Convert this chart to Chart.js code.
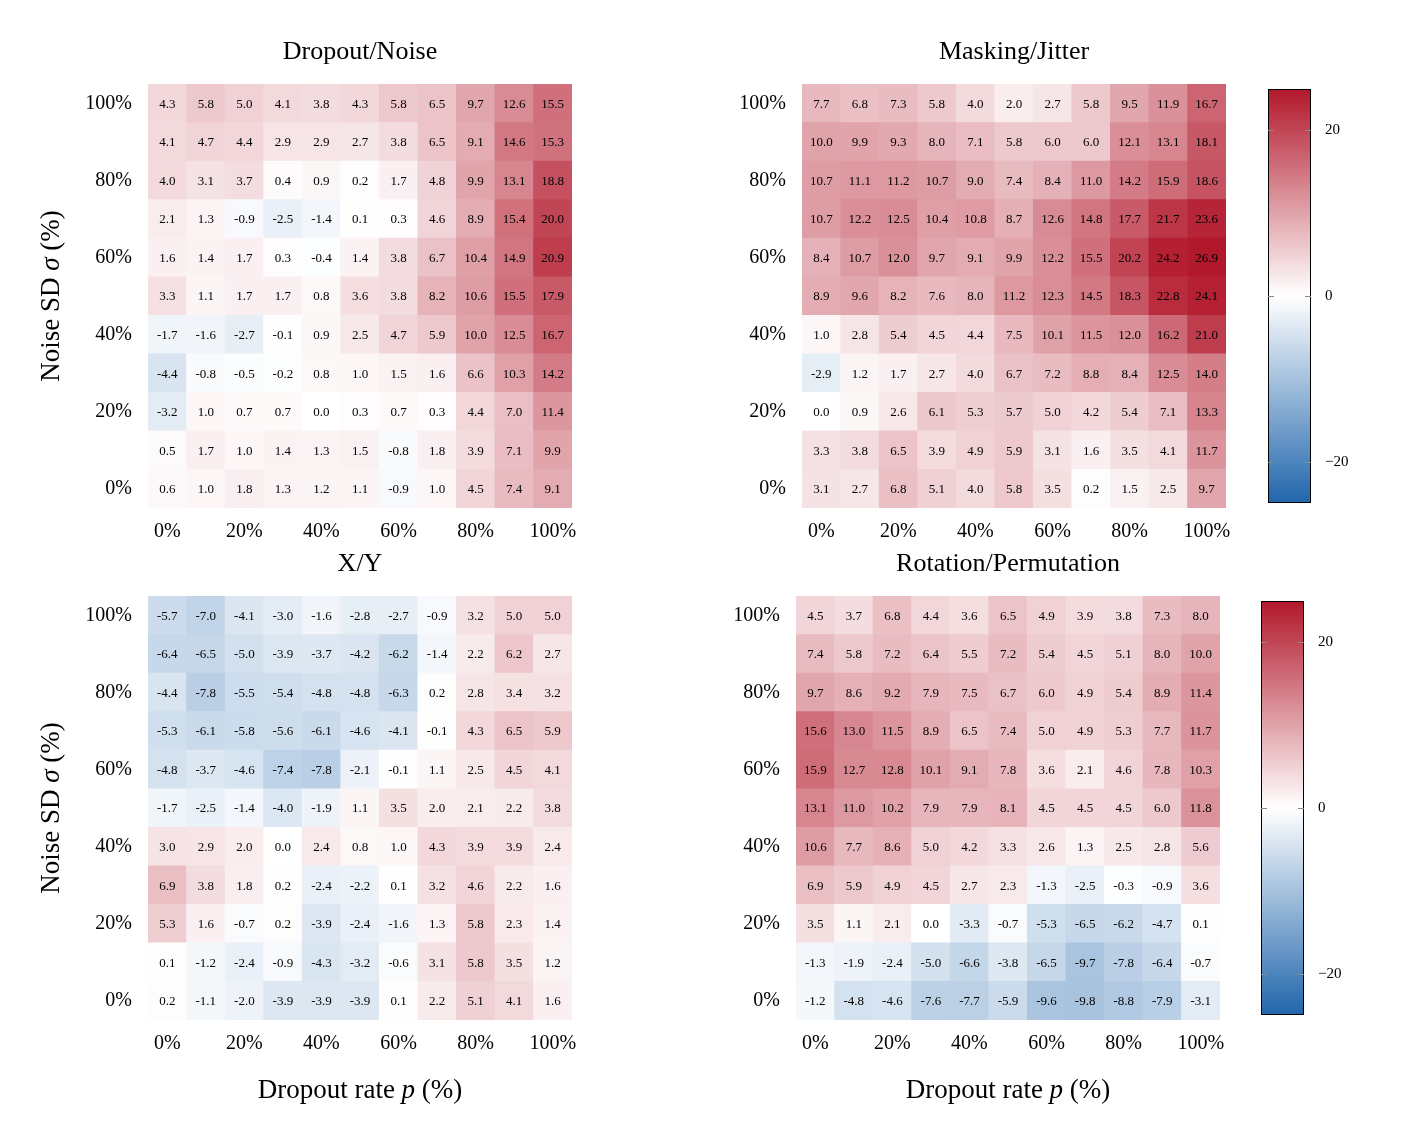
<!DOCTYPE html>
<html><head><meta charset="utf-8">
<script src="https://cdn.jsdelivr.net/npm/chart.js@4"></script>
<style>body{margin:0;background:#fff;width:1414px;height:1130px;position:relative;overflow:hidden}canvas{position:absolute}</style>
</head><body>
<canvas id="c0"></canvas><canvas id="c1"></canvas><canvas id="c2"></canvas><canvas id="c3"></canvas>
<canvas id="cb0"></canvas><canvas id="cb1"></canvas>
<script>
const columns = ['0','10','20','30','40','50','60','70','80','90','100'];
const xTickLabels = ['0%','','20%','','40%','','60%','','80%','','100%'];
const yTickLabels = ['0%','20%','40%','60%','80%','100%'];
const titles = ['Dropout/Noise','Masking/Jitter','X/Y','Rotation/Permutation'];
// rows listed top (σ=100%) to bottom (σ=0%)
const dropoutNoise = [
[4.3,5.8,5.0,4.1,3.8,4.3,5.8,6.5,9.7,12.6,15.5],
[4.1,4.7,4.4,2.9,2.9,2.7,3.8,6.5,9.1,14.6,15.3],
[4.0,3.1,3.7,0.4,0.9,0.2,1.7,4.8,9.9,13.1,18.8],
[2.1,1.3,-0.9,-2.5,-1.4,0.1,0.3,4.6,8.9,15.4,20.0],
[1.6,1.4,1.7,0.3,-0.4,1.4,3.8,6.7,10.4,14.9,20.9],
[3.3,1.1,1.7,1.7,0.8,3.6,3.8,8.2,10.6,15.5,17.9],
[-1.7,-1.6,-2.7,-0.1,0.9,2.5,4.7,5.9,10.0,12.5,16.7],
[-4.4,-0.8,-0.5,-0.2,0.8,1.0,1.5,1.6,6.6,10.3,14.2],
[-3.2,1.0,0.7,0.7,0.0,0.3,0.7,0.3,4.4,7.0,11.4],
[0.5,1.7,1.0,1.4,1.3,1.5,-0.8,1.8,3.9,7.1,9.9],
[0.6,1.0,1.8,1.3,1.2,1.1,-0.9,1.0,4.5,7.4,9.1]];
const maskingJitter = [
[7.7,6.8,7.3,5.8,4.0,2.0,2.7,5.8,9.5,11.9,16.7],
[10.0,9.9,9.3,8.0,7.1,5.8,6.0,6.0,12.1,13.1,18.1],
[10.7,11.1,11.2,10.7,9.0,7.4,8.4,11.0,14.2,15.9,18.6],
[10.7,12.2,12.5,10.4,10.8,8.7,12.6,14.8,17.7,21.7,23.6],
[8.4,10.7,12.0,9.7,9.1,9.9,12.2,15.5,20.2,24.2,26.9],
[8.9,9.6,8.2,7.6,8.0,11.2,12.3,14.5,18.3,22.8,24.1],
[1.0,2.8,5.4,4.5,4.4,7.5,10.1,11.5,12.0,16.2,21.0],
[-2.9,1.2,1.7,2.7,4.0,6.7,7.2,8.8,8.4,12.5,14.0],
[0.0,0.9,2.6,6.1,5.3,5.7,5.0,4.2,5.4,7.1,13.3],
[3.3,3.8,6.5,3.9,4.9,5.9,3.1,1.6,3.5,4.1,11.7],
[3.1,2.7,6.8,5.1,4.0,5.8,3.5,0.2,1.5,2.5,9.7]];
const xy = [
[-5.7,-7.0,-4.1,-3.0,-1.6,-2.8,-2.7,-0.9,3.2,5.0,5.0],
[-6.4,-6.5,-5.0,-3.9,-3.7,-4.2,-6.2,-1.4,2.2,6.2,2.7],
[-4.4,-7.8,-5.5,-5.4,-4.8,-4.8,-6.3,0.2,2.8,3.4,3.2],
[-5.3,-6.1,-5.8,-5.6,-6.1,-4.6,-4.1,-0.1,4.3,6.5,5.9],
[-4.8,-3.7,-4.6,-7.4,-7.8,-2.1,-0.1,1.1,2.5,4.5,4.1],
[-1.7,-2.5,-1.4,-4.0,-1.9,1.1,3.5,2.0,2.1,2.2,3.8],
[3.0,2.9,2.0,0.0,2.4,0.8,1.0,4.3,3.9,3.9,2.4],
[6.9,3.8,1.8,0.2,-2.4,-2.2,0.1,3.2,4.6,2.2,1.6],
[5.3,1.6,-0.7,0.2,-3.9,-2.4,-1.6,1.3,5.8,2.3,1.4],
[0.1,-1.2,-2.4,-0.9,-4.3,-3.2,-0.6,3.1,5.8,3.5,1.2],
[0.2,-1.1,-2.0,-3.9,-3.9,-3.9,0.1,2.2,5.1,4.1,1.6]];
const rotationPermutation = [
[4.5,3.7,6.8,4.4,3.6,6.5,4.9,3.9,3.8,7.3,8.0],
[7.4,5.8,7.2,6.4,5.5,7.2,5.4,4.5,5.1,8.0,10.0],
[9.7,8.6,9.2,7.9,7.5,6.7,6.0,4.9,5.4,8.9,11.4],
[15.6,13.0,11.5,8.9,6.5,7.4,5.0,4.9,5.3,7.7,11.7],
[15.9,12.7,12.8,10.1,9.1,7.8,3.6,2.1,4.6,7.8,10.3],
[13.1,11.0,10.2,7.9,7.9,8.1,4.5,4.5,4.5,6.0,11.8],
[10.6,7.7,8.6,5.0,4.2,3.3,2.6,1.3,2.5,2.8,5.6],
[6.9,5.9,4.9,4.5,2.7,2.3,-1.3,-2.5,-0.3,-0.9,3.6],
[3.5,1.1,2.1,0.0,-3.3,-0.7,-5.3,-6.5,-6.2,-4.7,0.1],
[-1.3,-1.9,-2.4,-5.0,-6.6,-3.8,-6.5,-9.7,-7.8,-6.4,-0.7],
[-1.2,-4.8,-4.6,-7.6,-7.7,-5.9,-9.6,-9.8,-8.8,-7.9,-3.1]];
const colorbarTicks = [-20,0,20];
const VMAX = 25;

const SERIF = '"Liberation Serif", "DejaVu Serif", serif';
const RED=[178,24,43], BLUE=[33,102,172];
function cmap(v){
  let t=Math.max(-1,Math.min(1,v/VMAX)); const c=t>=0?RED:BLUE; t=Math.abs(t);
  return `rgb(${Math.round(255+(c[0]-255)*t)},${Math.round(255+(c[1]-255)*t)},${Math.round(255+(c[2]-255)*t)})`;
}
function drawMixed(ctx, parts, cx, cy, size){
  let w=0; parts.forEach(p=>{ctx.font=(p[1]?'italic ':'')+size+'px '+SERIF; w+=ctx.measureText(p[0]).width;});
  let x=cx-w/2; ctx.textAlign='left'; ctx.textBaseline='middle';
  parts.forEach(p=>{ctx.font=(p[1]?'italic ':'')+size+'px '+SERIF; ctx.fillText(p[0],x,cy); x+=ctx.measureText(p[0]).width;});
}
const panels=[
 {id:'c0',data:dropoutNoise,title:titles[0],left:148,top:84,ylab:true,xlab:false},
 {id:'c1',data:maskingJitter,title:titles[1],left:802,top:84,ylab:false,xlab:false},
 {id:'c2',data:xy,title:titles[2],left:148,top:596,ylab:true,xlab:true},
 {id:'c3',data:rotationPermutation,title:titles[3],left:796,top:596,ylab:false,xlab:true}];
const SZ=424, PT=70, PL=150, PR=40, PB=100;
panels.forEach(p=>{
  const cv=document.getElementById(p.id);
  cv.style.left=(p.left-PL)+'px'; cv.style.top=(p.top-PT)+'px';
  cv.style.width=(PL+SZ+PR)+'px'; cv.style.height=(PT+SZ+PB)+'px';
  const rowsBottomUp=p.data.slice().reverse();
  const datasets=rowsBottomUp.map((row,r)=>({label:'r'+r,data:row.map(()=>1),vals:row,backgroundColor:row.map(cmap),borderWidth:0,barPercentage:1,categoryPercentage:1}));
  const labelPlugin={id:'lbl',afterDatasetsDraw(chart){
    const ctx=chart.ctx, a=chart.chartArea; ctx.save(); ctx.fillStyle='#000';
    ctx.font='13px '+SERIF; ctx.textAlign='center'; ctx.textBaseline='middle';
    chart.data.datasets.forEach((ds,di)=>{chart.getDatasetMeta(di).data.forEach((el,i)=>{
      ctx.fillText(ds.vals[i].toFixed(1),el.x,(el.y+el.base)/2+1);});});
    ctx.font='26px '+SERIF; ctx.textAlign='center'; ctx.textBaseline='middle';
    ctx.fillText(p.title,(a.left+a.right)/2,a.top-32);
    if(p.xlab) drawMixed(ctx,[['Dropout rate ',0],['p',1],[' (%)',0]],(a.left+a.right)/2,a.bottom+71,27);
    if(p.ylab){ctx.translate(a.left-96,(a.top+a.bottom)/2);ctx.rotate(-Math.PI/2);
      drawMixed(ctx,[['Noise SD ',0],['σ',1],[' (%)',0]],0,0,27);}
    ctx.restore();}};
  new Chart(cv,{type:'bar',data:{labels:columns,datasets},
    options:{responsive:false,animation:false,devicePixelRatio:1,
      layout:{padding:{top:PT,right:PR,left:0,bottom:0}},
      plugins:{legend:{display:false},tooltip:{enabled:false}},
      scales:{
        x:{stacked:true,grid:{display:false},border:{display:false},
           afterFit(s){s.height=PB;},
           ticks:{autoSkip:false,maxRotation:0,padding:4,color:'#000',font:{family:SERIF,size:20},callback:(v,i)=>xTickLabels[i]}},
        y:{stacked:true,min:0,max:11,grid:{display:false},border:{display:false},
           afterFit(s){s.width=PL;},
           afterBuildTicks(s){s.ticks=[0.5,2.5,4.5,6.5,8.5,10.5].map(v=>({value:v}));},
           ticks:{padding:8,color:'#000',font:{family:SERIF,size:20},callback:(v)=>yTickLabels[Math.round((v-0.5)/2)]}}}},
    plugins:[labelPlugin]});
});
[{id:'cb0',left:1268,top:84},{id:'cb1',left:1261,top:596}].forEach(c=>{
  const cv=document.getElementById(c.id);
  const W=43, PT2=10, RW=60;
  cv.style.left=c.left+'px'; cv.style.top=(c.top-PT2)+'px';
  cv.style.width=(W+RW)+'px'; cv.style.height=(SZ+2*PT2)+'px';
  const grad={id:'grad',beforeDatasetsDraw(chart){
    const a=chart.chartArea, g=chart.ctx.createLinearGradient(0,a.bottom,0,a.top);
    for(let i=0;i<=20;i++){g.addColorStop(i/20,cmap(-VMAX+2*VMAX*i/20));}
    chart.data.datasets[0].backgroundColor=g; chart.getDatasetMeta(0).data[0].options.backgroundColor=g;},
    afterDatasetsDraw(chart){const a=chart.chartArea,ctx=chart.ctx;ctx.save();ctx.strokeStyle='#000';ctx.lineWidth=1;
      ctx.strokeRect(a.left+0.5,a.top+0.5,a.right-a.left-1,a.bottom-a.top-1);
      ctx.strokeStyle='#888';
      colorbarTicks.forEach(t=>{const y=Math.round(chart.scales.y.getPixelForValue(t))+0.5;
        ctx.beginPath();ctx.moveTo(a.left,y);ctx.lineTo(a.left+6,y);ctx.moveTo(a.right-6,y);ctx.lineTo(a.right,y);ctx.stroke();});
      ctx.restore();}};
  new Chart(cv,{type:'bar',data:{labels:[''],datasets:[{data:[[-VMAX,VMAX]],backgroundColor:'#fff',borderWidth:0,barPercentage:1,categoryPercentage:1}]},
    options:{responsive:false,animation:false,devicePixelRatio:1,layout:{padding:{top:PT2,bottom:PT2,left:0,right:0}},
      plugins:{legend:{display:false},tooltip:{enabled:false}},
      scales:{x:{display:false},
        y:{position:'right',min:-VMAX,max:VMAX,afterFit(s){s.width=RW;},
          afterBuildTicks(s){s.ticks=colorbarTicks.map(v=>({value:v}));},
          grid:{display:false},border:{display:false},
          ticks:{padding:6,color:'#000',font:{family:SERIF,size:15},callback:v=>v<0?'\u2212'+Math.abs(v):String(v)}}}},
    plugins:[grad]});
});
</script></body></html>
